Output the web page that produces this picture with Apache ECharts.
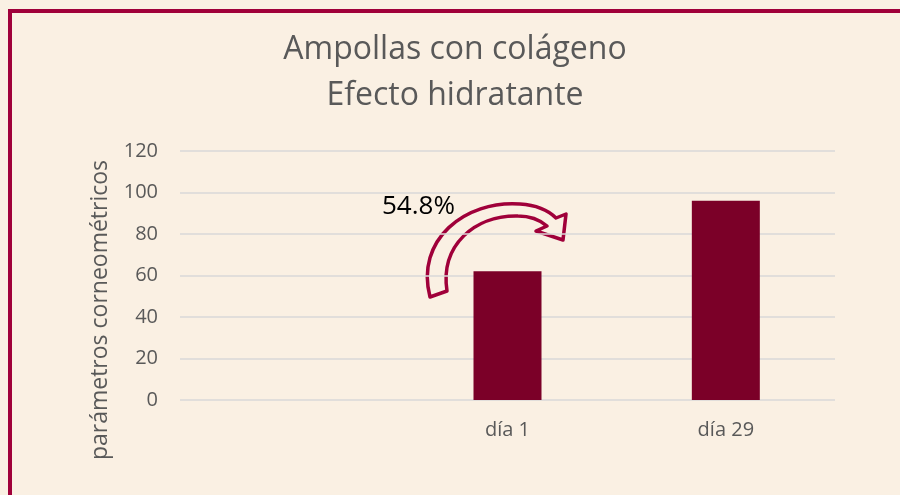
<!DOCTYPE html>
<html>
<head>
<meta charset="utf-8">
<script src="https://cdn.jsdelivr.net/npm/echarts@6/dist/echarts.min.js"></script>
<style>
  html, body { margin: 0; padding: 0; background: #FAF0E3; }
  #chart { width: 900px; height: 495px; }
</style>
</head>
<body>
<div id="chart"></div>
<script>
  var categories = ['', 'día 1', 'día 29'];
  var values = [null, 62, 96];
  var yTicks = { min: 0, max: 120, interval: 20 };

  // hollow curved arrow between the bars
  echarts.graphic.registerShape('curvedArrow', echarts.graphic.extendPath(
    'M 430 297 C 415 240, 465 200, 520 204 C 535 205, 548 210, 556 218 L 566 214 L 563 240 L 536 231 L 547 226 C 540 220, 530 216, 518 216 C 475 215, 440 245, 447 291 Z'
  ));

  var chart = echarts.init(document.getElementById('chart'));
  var txt = '#595959';
  var crimson = '#A0003A';

  chart.setOption({
    backgroundColor: '#FAF0E3',
    animation: false,
    grid: { left: 180, right: 65, top: 151, bottom: 95 },
    xAxis: {
      type: 'category',
      data: categories,
      axisLine: { show: false },
      axisTick: { show: false },
      axisLabel: { color: txt, fontSize: 20, fontFamily: 'Open Sans', margin: 20 }
    },
    yAxis: {
      type: 'value',
      min: yTicks.min,
      max: yTicks.max,
      interval: yTicks.interval,
      axisLine: { show: false },
      axisTick: { show: false },
      axisLabel: { color: txt, fontSize: 20, fontFamily: 'Open Sans', margin: 22 },
      splitLine: { lineStyle: { color: '#D9D9D9', width: 1.5 } }
    },
    series: [{
      type: 'bar',
      data: values,
      barWidth: 68,
      itemStyle: { color: '#7B0028' }
    }],
    graphic: [
      // frame
      {
        type: 'rect',
        shape: { x: 10, y: 11, width: 900, height: 500 },
        style: { fill: 'none', stroke: crimson, lineWidth: 4 },
        silent: true
      },
      {
        type: 'text',
        x: 455,
        y: 27,
        style: {
          text: 'Ampollas con colágeno\nEfecto hidratante',
          fill: txt,
          font: '32px "Open Sans"',
          align: 'center',
          lineHeight: 46
        }
      },
      {
        type: 'text',
        x: 100,
        y: 310,
        rotation: Math.PI / 2,
        style: {
          text: 'parámetros corneométricos',
          fill: txt,
          font: '23px "Open Sans"',
          align: 'center',
          verticalAlign: 'middle'
        }
      },
      {
        type: 'curvedArrow',
        shape: {},
        style: { fill: '#FAF0E3', stroke: crimson, lineWidth: 3.5, lineJoin: 'round' }
      },
      {
        type: 'text',
        x: 382,
        y: 194,
        style: { text: '54.8%', fill: '#000', font: '26px "Open Sans"' }
      }
    ]
  });
</script>
</body>
</html>
